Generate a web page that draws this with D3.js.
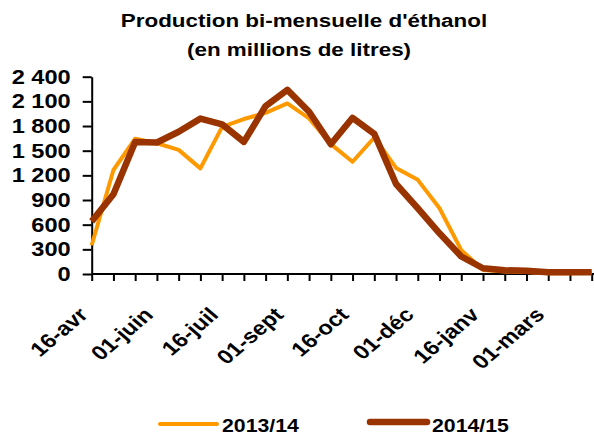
<!DOCTYPE html>
<html lang="fr">
<head>
    <meta charset="UTF-8">
    <title>Production bi-mensuelle d'éthanol</title>
    <script src="https://cdnjs.cloudflare.com/ajax/libs/d3/7.8.5/d3.min.js"></script>
    <style>
        body {
            margin: 0;
            background-color: #fff;
        }

        svg {
            display: block;
            font-family: Arial, "Liberation Sans", sans-serif;
            font-weight: bold;
        }
    </style>
</head>
<body>
<svg width="594" height="435"></svg>

<script>
    // Data
    const dates = ["16-avr", "01-mai", "16-mai", "01-juin", "16-juin", "01-juil", "16-juil", "01-août",
        "16-août", "01-sept", "16-sept", "01-oct", "16-oct", "01-nov", "16-nov", "01-déc",
        "16-déc", "01-janv", "16-janv", "01-févr", "16-févr", "01-mars", "16-mars", "01-avr"];
    const prod1314 = [350, 1265, 1645, 1590, 1510, 1285, 1790, 1885, 1960, 2075, 1893, 1580, 1365, 1660,
        1290, 1145, 800, 290, 50, 30, 25, 10, 10, 15];
    const prod1415 = [640, 970, 1605, 1600, 1730, 1890, 1820, 1607, 2043, 2240, 1974, 1578, 1900, 1705,
        1095, 800, 495, 213, 70, 45, 40, 20, 20, 20];
    const yTicks = [0, 300, 600, 900, 1200, 1500, 1800, 2100, 2400];
    const seriesNames = ["2013/14", "2014/15"];
    const colors = ["#FF9900", "#993300"];

    const svg = d3.select("svg");
    const stretch = 1.18; // the whole picture is a bit wider than tall

    const x = d3.scalePoint()
        .domain(d3.range(dates.length))
        .range([91.7, 591.7]);

    const y = d3.scaleLinear()
        .domain([0, 2400])
        .range([274, 76.7]);

    // Title
    const title = ["Production bi-mensuelle d'éthanol", "(en millions de litres)"];
    svg.selectAll(".title")
        .data(title)
        .enter()
        .append("text")
        .attr("class", "title")
        .attr("text-anchor", "middle")
        .attr("font-size", 19)
        .attr("transform", (d, i) => `translate(${i === 0 ? 304 : 299},${i === 0 ? 27 : 56}) scale(${stretch},1)`)
        .text(d => d);

    // Y axis
    const yAxis = svg.append("g")
        .attr("transform", `translate(${x(0)},0)`)
        .call(d3.axisLeft(y).tickValues(yTicks).tickSize(9).tickSizeOuter(0)
            .tickFormat(d => d3.format(",")(d).replace(",", " ")));
    yAxis.select(".domain").attr("stroke", "#000").attr("stroke-width", 2);
    yAxis.selectAll(".tick line").attr("stroke", "#000").attr("stroke-width", 2);
    yAxis.selectAll(".tick text")
        .attr("x", -21 / stretch)
        .attr("transform", `scale(${stretch},1)`)
        .attr("font-size", 20)
        .attr("font-family", "Arial, 'Liberation Sans', sans-serif")
        .attr("font-weight", "bold")
        .attr("fill", "#000");

    // X axis
    const xAxis = svg.append("g")
        .attr("transform", `translate(0,${y(0)})`)
        .call(d3.axisBottom(x).tickSize(7).tickSizeOuter(0)
            .tickFormat(i => i % 3 === 0 && i < 22 ? dates[i] : ""));
    xAxis.select(".domain").attr("d", `M${x(0)},0H594`).attr("stroke", "#000").attr("stroke-width", 2);
    xAxis.selectAll(".tick line").attr("stroke", "#000").attr("stroke-width", 2);
    xAxis.selectAll(".tick text")
        .attr("x", null)
        .attr("y", null)
        .attr("dy", null)
        .attr("text-anchor", "end")
        .attr("transform", `translate(-3,42) scale(${stretch},1) rotate(-45)`)
        .attr("font-size", 20)
        .attr("font-family", "Arial, 'Liberation Sans', sans-serif")
        .attr("font-weight", "bold")
        .attr("fill", "#000");

    // Lines
    const line = d3.line()
        .x((d, i) => x(i))
        .y(d => y(d));

    svg.append("path")
        .datum(prod1314)
        .attr("d", line)
        .attr("fill", "none")
        .attr("stroke", colors[0])
        .attr("stroke-width", 4)
        .attr("stroke-linejoin", "round");

    svg.append("path")
        .datum(prod1415)
        .attr("d", line)
        .attr("fill", "none")
        .attr("stroke", colors[1])
        .attr("stroke-width", 6.5)
        .attr("stroke-linejoin", "round");

    // Legend
    const legendX = [160, 370];
    const legendW = [4, 6.5];
    const legendY = [424, 422];
    const legend = svg.selectAll(".legend")
        .data(seriesNames)
        .enter()
        .append("g")
        .attr("class", "legend");

    legend.append("line")
        .attr("x1", (d, i) => legendX[i])
        .attr("x2", (d, i) => legendX[i] + 57)
        .attr("y1", (d, i) => legendY[i])
        .attr("y2", (d, i) => legendY[i])
        .attr("stroke", (d, i) => colors[i])
        .attr("stroke-width", (d, i) => legendW[i])
        .attr("stroke-linecap", "round");

    legend.append("text")
        .attr("font-size", 19)
        .attr("transform", (d, i) => `translate(${legendX[i] + 62},432) scale(1.12,1)`)
        .text(d => d);
</script>
</body>
</html>
